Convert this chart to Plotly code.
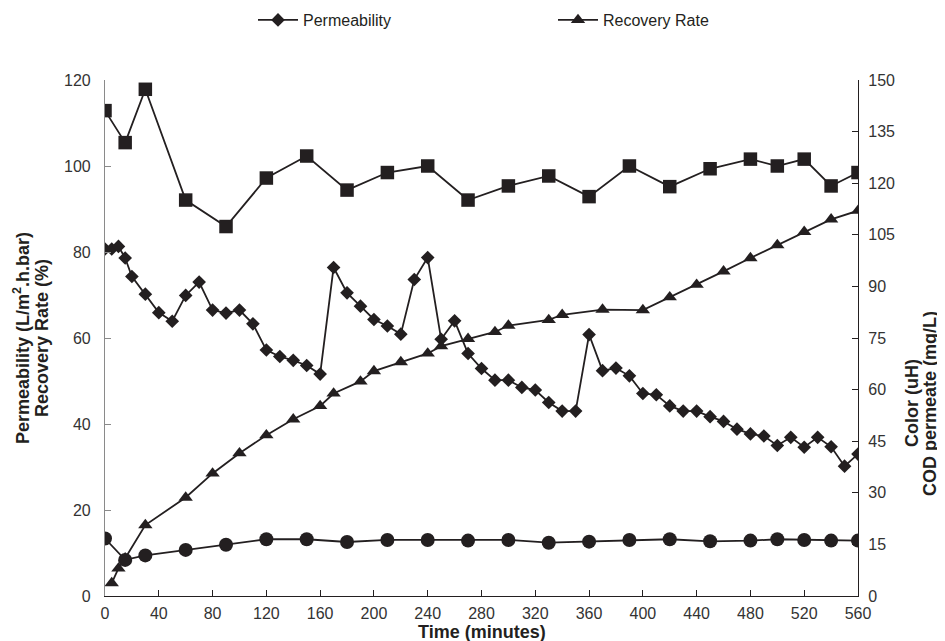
import plotly.graph_objects as go

# ---------------- data ----------------
perm_time = [0, 5, 10, 15, 20, 30, 40, 50, 60, 70, 80, 90, 100, 110, 120, 130, 140, 150, 160,
             170, 180, 190, 200, 210, 220, 230, 240, 250, 260, 270, 280, 290, 300, 310, 320,
             330, 340, 350, 360, 370, 380, 390, 400, 410, 420, 430, 440, 450, 460, 470, 480,
             490, 500, 510, 520, 530, 540, 550, 560]
permeability = [80.7, 80.7, 81.3, 78.6, 74.3, 70.2, 65.9, 63.9, 69.9, 73.0, 66.5, 65.8, 66.5, 63.3,
                57.2, 55.7, 54.8, 53.6, 51.6, 76.4, 70.5, 67.4, 64.3, 62.8, 60.9, 73.6, 78.7,
                59.7, 64.0, 56.4, 52.9, 50.2, 50.2, 48.5, 47.9, 45.0, 43.0, 43.0, 60.8, 52.4,
                53.0, 51.2, 47.1, 46.8, 44.2, 43.0, 43.0, 41.7, 40.6, 38.8, 37.7, 37.2, 35.0,
                36.9, 34.6, 36.9, 34.7, 30.2, 33.0]

rec_time = [5, 10, 15, 30, 60, 80, 100, 120, 140, 160, 170, 190, 200, 220, 240, 250, 270, 290,
            300, 330, 340, 370, 400, 420, 440, 460, 480, 500, 520, 540, 560]
recovery = [3.0, 6.4, 8.8, 16.5, 22.9, 28.5, 33.2, 37.4, 41.1, 44.2, 47.1, 49.9, 52.3, 54.4,
            56.4, 58.1, 59.8, 61.4, 62.9, 64.2, 65.4, 66.6, 66.5, 69.5, 72.4, 75.5, 78.6, 81.6,
            84.7, 87.6, 89.6]

color_time = [0, 15, 30, 60, 90, 120, 150, 180, 210, 240, 270, 300, 330, 360, 390, 420, 450,
              480, 500, 520, 540, 560]
color_uh = [141.1, 131.8, 147.3, 115.1, 107.4, 121.5, 127.9, 118.0, 123.1, 125.0, 115.1, 119.2,
            122.1, 116.1, 125.0, 119.0, 124.2, 127.0, 125.0, 127.0, 119.2, 123.1]

cod_time = [0, 15, 30, 60, 90, 120, 150, 180, 210, 240, 270, 300, 330, 360, 390, 420, 450, 480,
            500, 520, 540, 560]
cod = [16.7, 10.5, 11.8, 13.4, 14.9, 16.5, 16.5, 15.7, 16.3, 16.3, 16.1, 16.3, 15.5, 15.8, 16.3,
       16.5, 15.9, 16.1, 16.5, 16.3, 16.1, 16.1]

x_ticks = list(range(0, 561, 40))
left_ticks = list(range(0, 121, 20))
right_ticks = list(range(0, 151, 15))

# ---------------- figure ----------------
OFF = 8                      # page body margin of the written html
W, H = 945 - OFF, 641 - OFF
L, T = 105 - OFF, 80 - OFF   # plot area: page x 105..858, y 80..596
R = W - (858 - OFF)
B = H - (596 - OFF)
INK = "#231f20"
FONT = "Arial, Liberation Sans, Helvetica, sans-serif"


def px_x(page_px):
    return (page_px - OFF - L) / (W - L - R)


def px_y(page_py):
    return (H - B - (page_py - OFF)) / (H - T - B)


fig = go.Figure()

fig.add_trace(go.Scatter(x=perm_time, y=permeability, name="Permeability", mode="lines+markers",
                         line=dict(color=INK, width=1.8),
                         marker=dict(symbol="diamond", size=10.5, color=INK)))
fig.add_trace(go.Scatter(x=rec_time, y=recovery, name="Recovery Rate", mode="lines+markers",
                         line=dict(color=INK, width=1.8),
                         marker=dict(symbol="triangle-up", size=12.5, color=INK)))
fig.add_trace(go.Scatter(x=color_time, y=color_uh, name="Color", mode="lines+markers",
                         yaxis="y2", showlegend=False,
                         line=dict(color=INK, width=1.8),
                         marker=dict(symbol="square", size=13.5, color=INK)))
fig.add_trace(go.Scatter(x=cod_time, y=cod, name="COD permeate", mode="lines+markers",
                         yaxis="y2", showlegend=False,
                         line=dict(color=INK, width=1.8),
                         marker=dict(symbol="circle", size=14, color=INK)))

tickfont = dict(family=FONT, size=16, color="#333333")
titlefont = dict(family=FONT, size=18, color="#231f20")

fig.update_layout(
    width=W, height=H,
    margin=dict(l=L, r=R, t=T, b=B, autoexpand=False),
    paper_bgcolor="white", plot_bgcolor="white",
    font=dict(family=FONT, color="#333333"),
    xaxis=dict(range=[0, 560], tickvals=x_ticks, ticks="inside", ticklen=6,
               tickcolor=INK, showline=True, linecolor=INK, linewidth=1.2,
               showgrid=False, zeroline=False, tickfont=tickfont, ticklabelstandoff=3),
    yaxis=dict(range=[0, 120], tickvals=left_ticks, ticks="inside", ticklen=6,
               tickcolor="#8a8a8a", showline=True, linecolor="#8a8a8a", linewidth=1.2,
               showgrid=False, zeroline=False, tickfont=tickfont, ticklabelstandoff=10),
    yaxis2=dict(range=[0, 150], tickvals=right_ticks, ticks="inside", ticklen=6,
                overlaying="y", side="right",
                tickcolor=INK, showline=True, linecolor=INK, linewidth=1.2,
                showgrid=False, zeroline=False, tickfont=tickfont, ticklabelstandoff=6),
    legend=dict(orientation="h", x=px_x(253), y=px_y(20), xanchor="left", yanchor="middle",
                font=dict(family=FONT, size=16, color="#231f20"),
                itemwidth=40, entrywidth=245, bgcolor="rgba(0,0,0,0)"),
    annotations=[
        dict(text="<b>Permeability (L/m<sup>2</sup>.h.bar)</b>", textangle=-90,
             xref="paper", yref="paper", x=px_x(21), y=px_y(338), xanchor="center",
             yanchor="middle", showarrow=False, font=titlefont),
        dict(text="<b>Recovery Rate (%)</b>", textangle=-90,
             xref="paper", yref="paper", x=px_x(42), y=px_y(338), xanchor="center",
             yanchor="middle", showarrow=False, font=titlefont),
        dict(text="<b>Color (uH)</b>", textangle=-90,
             xref="paper", yref="paper", x=px_x(912), y=px_y(403), xanchor="center",
             yanchor="middle", showarrow=False, font=titlefont),
        dict(text="<b>COD permeate (mg/L)</b>", textangle=-90,
             xref="paper", yref="paper", x=px_x(930), y=px_y(403), xanchor="center",
             yanchor="middle", showarrow=False, font=titlefont),
        dict(text="<b>Time (minutes)</b>",
             xref="paper", yref="paper", x=px_x(482), y=px_y(632), xanchor="center",
             yanchor="middle", showarrow=False, font=titlefont),
    ],
)

fig.write_html("out.html")
